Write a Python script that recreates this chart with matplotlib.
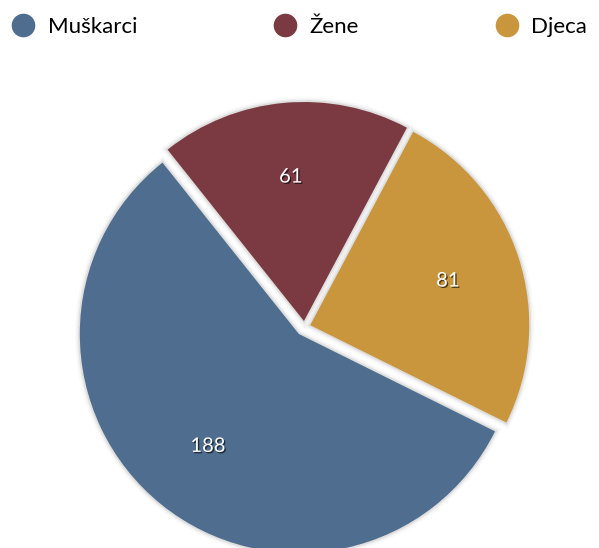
import matplotlib
matplotlib.use('Agg')
import matplotlib.pyplot as plt
import matplotlib.patheffects as pe
from matplotlib.lines import Line2D

# podaci
kategorije = ['Muškarci', 'Žene', 'Djeca']
vrijednosti = [188, 61, 81]
boje = ['#4f6d8e', '#7b3a41', '#c9963d']

ukupno = sum(vrijednosti)

fig = plt.figure(figsize=(5.99, 5.48), dpi=100)
ax = fig.add_axes([0, 0, 1, 1])

# meka sjena oko isjecaka
sjena = [
    pe.Stroke(linewidth=7, foreground='black', alpha=0.025),
    pe.Stroke(linewidth=4.5, foreground='black', alpha=0.04),
    pe.Stroke(linewidth=2.5, foreground='black', alpha=0.07),
    pe.Normal(),
]

# osi su u pikselima, pa je pomak (explode) takodjer u pikselima
wedges, texts, autotexts = ax.pie(
    vrijednosti,
    colors=boje,
    center=(304.5, 548 - 327),
    radius=219,
    explode=[9, 6, 6],
    startangle=-26.4,
    counterclock=False,
    autopct=lambda p: f'{round(p * ukupno / 100)}',
    pctdistance=0.66,
    wedgeprops=dict(linewidth=0, edgecolor='none'),
    textprops=dict(color='white', fontsize=14.5, family=['Lato', 'DejaVu Sans']),
)

for w in wedges:
    w.set_path_effects(sjena)

for t in autotexts:
    t.set_path_effects([
        pe.withSimplePatchShadow(offset=(1, -1), shadow_rgbFace='black', alpha=0.6),
    ])

ax.set_xlim(0, 599)
ax.set_ylim(0, 548)
ax.set_aspect('equal')
ax.axis('off')

# legenda
rucke = [Line2D([0], [0], marker='o', linestyle='none', markersize=17,
                markerfacecolor=c, markeredgecolor='none') for c in boje]
fig.legend(rucke, kategorije, loc='center', ncol=3, mode='expand',
           bbox_to_anchor=(0.02, 0.911, 0.96, 0.08), frameon=False,
           handlelength=1.0, handletextpad=0.6, borderpad=0, borderaxespad=0,
           prop=dict(family=['Lato', 'DejaVu Sans'], size=16))

plt.savefig('out.png', dpi=100)
